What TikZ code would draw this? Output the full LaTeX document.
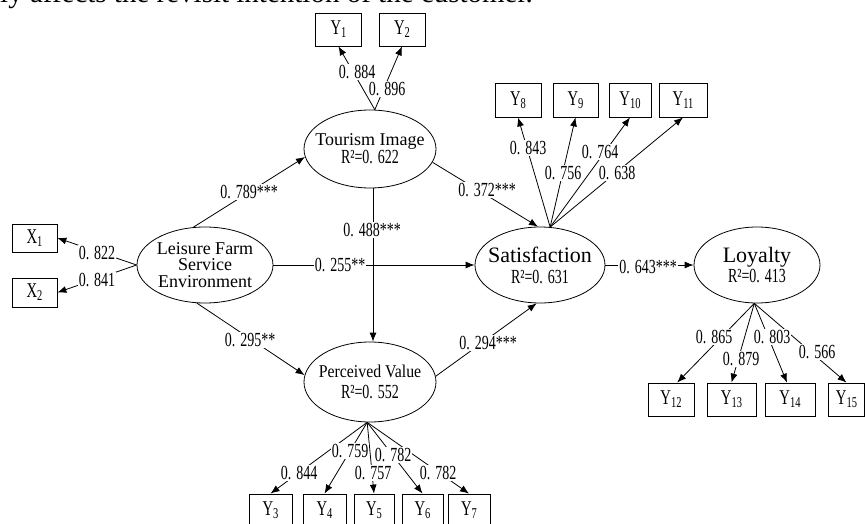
\documentclass[tikz,border=0pt]{standalone}
\usepackage{fontspec}
\setmainfont{Liberation Serif}
\newfontfamily\numfont[FakeStretch=0.7]{Liberation Serif}
\newfontfamily\condfont[FakeStretch=0.88]{Liberation Serif}
\usetikzlibrary{shapes.geometric,arrows.meta}
\newcommand\numL{\fontsize{20}{20}\numfont}
\newcommand\numY{\fontsize{21}{21}\numfont}
\newcommand\subidx[1]{\raisebox{-3pt}{\fontsize{15}{15}\numfont #1}}
\newcommand\cf[1]{0.\hspace{5pt}#1}
\tikzset{
  lat/.style={ellipse, draw, line width=0.8pt, inner sep=0pt},
  obs/.style={rectangle, draw, line width=0.8pt, inner sep=0pt, minimum height=33pt, font=\numY},
  arr/.style={-{Latex[length=9pt,width=7pt]}, line width=0.8pt},
  lbl/.style={fill=white, inner sep=1pt, font=\numL},
  ltext/.style={align=center, inner sep=0pt},
}
\begin{document}
\begin{tikzpicture}[x=1pt,y=-1pt]
\useasboundingbox (0,0) rectangle (865,524);
\fill[white] (0,0) rectangle (865,524);

% cut-off caption text at the top
\node[anchor=base west, inner sep=0pt, font=\fontsize{29}{29}\selectfont] (cap) at (0,3) {ly affects the revisit intention of the customer.};

% latent variables
\node[lat, minimum width=136pt, minimum height=76pt] (L) at (205,265) {};
\node[ltext, font=\fontsize{18}{16.5}\selectfont] (Lt) at (L) {Leisure Farm\\Service\\Environment};

\node[lat, minimum width=132pt, minimum height=78pt] (T) at (370,149) {};
\node[ltext, font=\fontsize{20}{17}\numfont] (Tt) at (T) {{\fontsize{18}{18}\rmfamily Tourism Image}\\R²=\cf{622}};

\node[lat, minimum width=130pt, minimum height=76pt] (S) at (540,265) {};
\node[ltext, font=\fontsize{20}{21}\numfont] (St) at (S) {{\fontsize{22}{22}\rmfamily Satisfaction}\\R²=\cf{631}};

\node[lat, minimum width=132pt, minimum height=80pt] (P) at (370,382) {};
\node[ltext, font=\fontsize{20}{21}\numfont] (Pt) at (P) {{\fontsize{18}{18}\condfont Perceived Value}\\R²=\cf{552}};

\node[lat, minimum width=126pt, minimum height=76pt] (Lo) at (757,265) {};
\node[ltext, font=\fontsize{20}{20}\numfont] (Lot) at (Lo) {{\fontsize{22}{22}\rmfamily Loyalty}\\R²=\cf{413}};

% observed indicators
\node[obs, minimum width=45pt, minimum height=28pt] (X1) at (34.5,238) {X\subidx{1}};
\node[obs, minimum width=45pt, minimum height=29pt] (X2) at (34.5,292.5) {X\subidx{2}};

\node[obs, minimum width=46pt] (Y1) at (338.5,29.5) {Y\subidx{1}};
\node[obs, minimum width=46pt] (Y2) at (402,29.5) {Y\subidx{2}};

\node[obs, minimum width=46pt, minimum height=34pt] (Y8) at (518,100) {Y\subidx{8}};
\node[obs, minimum width=45pt, minimum height=34pt] (Y9) at (575.5,100) {Y\subidx{9}};
\node[obs, minimum width=42pt, minimum height=34pt] (Y10) at (630,100) {Y\subidx{10}};
\node[obs, minimum width=48pt, minimum height=34pt] (Y11) at (683,100) {Y\subidx{11}};

\node[obs, minimum width=46pt] (Y12) at (671,399.5) {Y\subidx{12}};
\node[obs, minimum width=49pt] (Y13) at (731.5,399.5) {Y\subidx{13}};
\node[obs, minimum width=50pt] (Y14) at (790,399.5) {Y\subidx{14}};
\node[obs, minimum width=36pt] (Y15) at (846.5,399.5) {Y\subidx{15}};

\node[obs, minimum width=43pt] (Y3) at (270.5,510.5) {Y\subidx{3}};
\node[obs, minimum width=43pt] (Y4) at (324.5,510.5) {Y\subidx{4}};
\node[obs, minimum width=40pt] (Y5) at (374,510.5) {Y\subidx{5}};
\node[obs, minimum width=41pt] (Y6) at (422.5,510.5) {Y\subidx{6}};
\node[obs, minimum width=42pt] (Y7) at (469,510.5) {Y\subidx{7}};

% structural paths
\draw[arr] (L.107.5) -- (T.187);
\draw[arr] (L.east) -- (S.west);
\draw[arr] (L.258) -- (P.174);
\draw[arr] ([xshift=3pt]T.south) -- ([xshift=3pt]P.north);
\draw[arr] (T.348) -- (S.93);
\draw[arr] (P.5) -- (S.265);
\draw[arr] (S.east) -- (Lo.west);

% measurement paths
\draw[arr] (L.180) -- (X1.east);
\draw[arr] (L.180) -- (X2.east);
\draw[arr] (T.83) -- (Y1.south);
\draw[arr] (T.83) -- (Y2.south);
\draw[arr] (S.75) -- (Y8.south);
\draw[arr] (S.75) -- (Y9.south);
\draw[arr] (S.75) -- (Y10.south);
\draw[arr] (S.75) -- (Y11.south);
\draw[arr] (Lo.266) -- (Y12.70);
\draw[arr] (Lo.266) -- (Y13.north);
\draw[arr] (Lo.266) -- (Y14.100);
\draw[arr] (Lo.266) -- (Y15.north);
\draw[arr] (P.266) -- (Y3.north);
\draw[arr] (P.266) -- (Y4.north);
\draw[arr] (P.266) -- (Y5.north);
\draw[arr] (P.266) -- (Y6.north);
\draw[arr] (P.266) -- (Y7.north);

% coefficient labels
\node[lbl] (c1) at (249,192) {\cf{789***}};
\node[lbl] (c2) at (340,265) {\cf{255**}};
\node[lbl] (c3) at (250,340) {\cf{295**}};
\node[lbl] (c4) at (372,230) {\cf{488***}};
\node[lbl] (c5) at (487,190) {\cf{372***}};
\node[lbl] (c6) at (488,343) {\cf{294***}};
\node[lbl] (c7) at (648,267) {\cf{643***}};

\node[lbl] (m1) at (97,253) {\cf{822}};
\node[lbl] (m2) at (97,280) {\cf{841}};
\node[lbl] (m3) at (357,72) {\cf{884}};
\node[lbl] (m4) at (387,89) {\cf{896}};
\node[lbl] (m5) at (528,148) {\cf{843}};
\node[lbl] (m6) at (563,173) {\cf{756}};
\node[lbl] (m7) at (600,152) {\cf{764}};
\node[lbl] (m8) at (617,173) {\cf{638}};
\node[lbl] (m9) at (714,337) {\cf{865}};
\node[lbl] (m10) at (741,359) {\cf{879}};
\node[lbl] (m11) at (772,337) {\cf{803}};
\node[lbl] (m12) at (817,352) {\cf{566}};
\node[lbl] (m13) at (299,473) {\cf{844}};
\node[lbl] (m14) at (350,451) {\cf{759}};
\node[lbl] (m15) at (373,473) {\cf{757}};
\node[lbl] (m16) at (393,455) {\cf{782}};
\node[lbl] (m17) at (438,473) {\cf{782}};
\end{tikzpicture}
\end{document}
